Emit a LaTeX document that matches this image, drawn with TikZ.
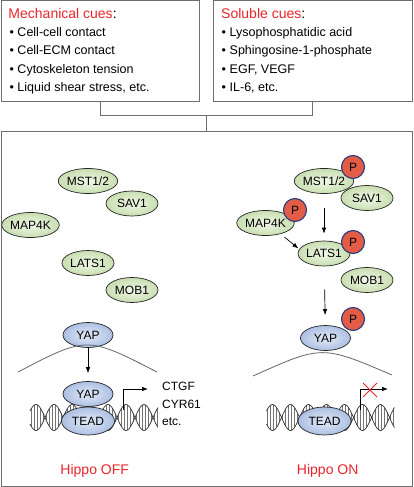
\documentclass[tikz,border=0pt]{standalone}
\usepackage{fontspec}
\setmainfont{Liberation Sans}
\usetikzlibrary{shapes.geometric,arrows.meta}
\definecolor{cuered}{RGB}{232,36,44}
\definecolor{boxgray}{RGB}{110,110,110}
\definecolor{gin}{RGB}{240,247,232}
\definecolor{gout}{RGB}{200,222,176}
\definecolor{bin}{RGB}{228,235,247}
\definecolor{bout}{RGB}{172,191,226}
\definecolor{pfill}{RGB}{226,92,70}
\definecolor{pdraw}{RGB}{40,58,128}
\newcommand\mydna{%
  \foreach \x in {31,34,...,157} \draw[hatch] (\x,{417.5+13*cos(10*(\x-36))}) -- (\x,{417.5-13*cos(10*(\x-36))});
  \draw[strand] plot[domain=30:158,samples=120,smooth,variable=\x] (\x,{417.5+13*cos(10*(\x-36))});
  \draw[strand] plot[domain=30:158,samples=120,smooth,variable=\x] (\x,{417.5-13*cos(10*(\x-36))});
}
\begin{document}
\begin{tikzpicture}[x=1pt,y=-1pt,
  box/.style={draw=boxgray, line width=0.9pt, inner sep=0pt},
  conn/.style={draw=boxgray, line width=0.9pt},
  gell/.style={ellipse, draw=black!85, line width=0.7pt, inner sep=0pt, inner color=gin, outer color=gout, minimum width=52pt, minimum height=25pt, font=\fontsize{12}{12}\selectfont},
  bell/.style={ellipse, draw=black!85, line width=0.7pt, inner sep=0pt, inner color=bin, outer color=bout, minimum width=50pt, minimum height=25pt, font=\fontsize{12}{12}\selectfont},
  phos/.style={circle, draw=pdraw, line width=1.1pt, fill=pfill, minimum size=23pt, inner sep=0pt, font=\fontsize{12}{12}\selectfont},
  arr/.style={-{Latex[length=6pt,width=4.5pt]}, line width=0.7pt},
  title/.style={anchor=base west, inner sep=0pt, font=\fontsize{14}{16}\selectfont},
  item/.style={anchor=base west, inner sep=0pt, font=\fontsize{12.5}{14}\selectfont},
  hippo/.style={anchor=base, inner sep=0pt, text=cuered, font=\fontsize{14}{16}\selectfont},
  gene/.style={anchor=base west, inner sep=0pt, font=\fontsize{12}{14}\selectfont},
  strand/.style={line width=0.7pt, black!80},
  hatch/.style={line width=0.35pt, black!55},
  memb/.style={draw=black!60, line width=0.8pt},
  xmark/.style={draw=cuered, line width=0.8pt},
]
\useasboundingbox (0,0) rectangle (413,487);
% top boxes
\node[box, minimum width=197.3pt, minimum height=100.3pt] (mech) at (100.3,50.9) {};
\node[box, minimum width=199pt, minimum height=100.3pt] (sol) at (312.5,50.9) {};
\node[box, minimum width=411pt, minimum height=355pt] (panel) at (206.5,308.5) {};
\coordinate (junc) at (206.5,115);
\draw[conn] (mech.south) -- ++(0,14) -| (sol.south);
\draw[conn] (junc) -- (panel.north);
% texts
\node[title] (mt) at (8.3,19) {\textcolor{cuered}{Mechanical cues}:};
\node[item] (m1) at (9.3,36.7) {\makebox[8pt][l]{•}Cell-cell contact};
\node[item] (m2) at (9.3,55) {\makebox[8pt][l]{•}Cell-ECM contact};
\node[item] (m3) at (9.3,73.3) {\makebox[8pt][l]{•}Cytoskeleton tension};
\node[item] (m4) at (9.3,92) {\makebox[8pt][l]{•}Liquid shear stress, etc.};
\node[title] (st) at (221,19) {\textcolor{cuered}{Soluble cues}:};
\node[item] (s1) at (221.5,36.7) {\makebox[8pt][l]{•}Lysophosphatidic acid};
\node[item] (s2) at (221.5,55) {\makebox[8pt][l]{•}Sphingosine-1-phosphate};
\node[item] (s3) at (221.5,73.3) {\makebox[8pt][l]{•}EGF, VEGF};
\node[item] (s4) at (221.5,92) {\makebox[8pt][l]{•}IL-6, etc.};
% left panel (Hippo OFF)
\node[gell] (mstL) at (88,181) {MST1/2};
\node[gell] (savL) at (132,203.5) {SAV1};
\node[gell] (mapL) at (30.5,225) {MAP4K};
\node[gell] (latsL) at (88,263) {LATS1};
\node[gell] (mobL) at (132,290) {MOB1};
\node[bell] (yapL) at (88,335) {YAP};
\draw[memb] (18,372) .. controls (87,336) .. (157,372);
\mydna
\node[bell] (yapL2) at (88,394) {YAP};
\node[bell, minimum width=53pt, minimum height=28pt] (teadL) at (88,421) {TEAD};
\draw[arr, shorten >=8pt] (yapL) -- (yapL2);
\coordinate (tssL) at (123,410);
\coordinate (tipL) at (148,389);
\draw[arr] (tssL) |- (tipL);
\node[gene] (g1) at (162,390) {CTGF};
\node[gene] (g2) at (162,408) {CYR61};
\node[gene] (g3) at (162,425) {etc.};
\node[hippo] (off) at (94.7,474) {Hippo OFF};
% right panel (Hippo ON)
\node[gell] (mstR) at (324,181) {MST1/2};
\node[gell] (savR) at (367,198) {SAV1};
\node[phos] (pmst) at (353,167) {P};
\node[gell] (mapR) at (265.5,223) {MAP4K};
\node[phos] (pmap) at (295,210) {P};
\node[gell] (latsR) at (324,253.5) {LATS1};
\node[gell] (mobR) at (367,280) {MOB1};
\node[phos] (plats) at (353,242) {P};
\node[bell] (yapR) at (325.5,338) {YAP};
\node[phos] (pyap) at (353,319) {P};
\draw[arr, shorten <=14pt, shorten >=7pt] (mstR) -- (latsR);
\draw[arr, shorten <=5pt, shorten >=1pt] (mapR.-36) -- (latsR.170);
\draw[arr, shorten <=23pt, shorten >=10pt] (latsR) -- (yapR);
\draw[memb] (253,376) .. controls (322,345) .. (392,375);
\begin{scope}[xshift=236.5pt]
\mydna
\end{scope}
\node[bell, minimum width=53pt, minimum height=28pt] (teadR) at (324.5,421) {TEAD};
\coordinate (tssR) at (360,410);
\coordinate (tipR) at (388,389);
\draw[arr] (tssR) |- (tipR);
\coordinate (xc) at (370,390);
\draw[xmark] ([shift={(-7,-7)}]xc) -- ([shift={(7,7)}]xc) ([shift={(-7,7)}]xc) -- ([shift={(7,-7)}]xc);
\node[hippo] (on) at (327.7,474) {Hippo ON};
\end{tikzpicture}
\end{document}
